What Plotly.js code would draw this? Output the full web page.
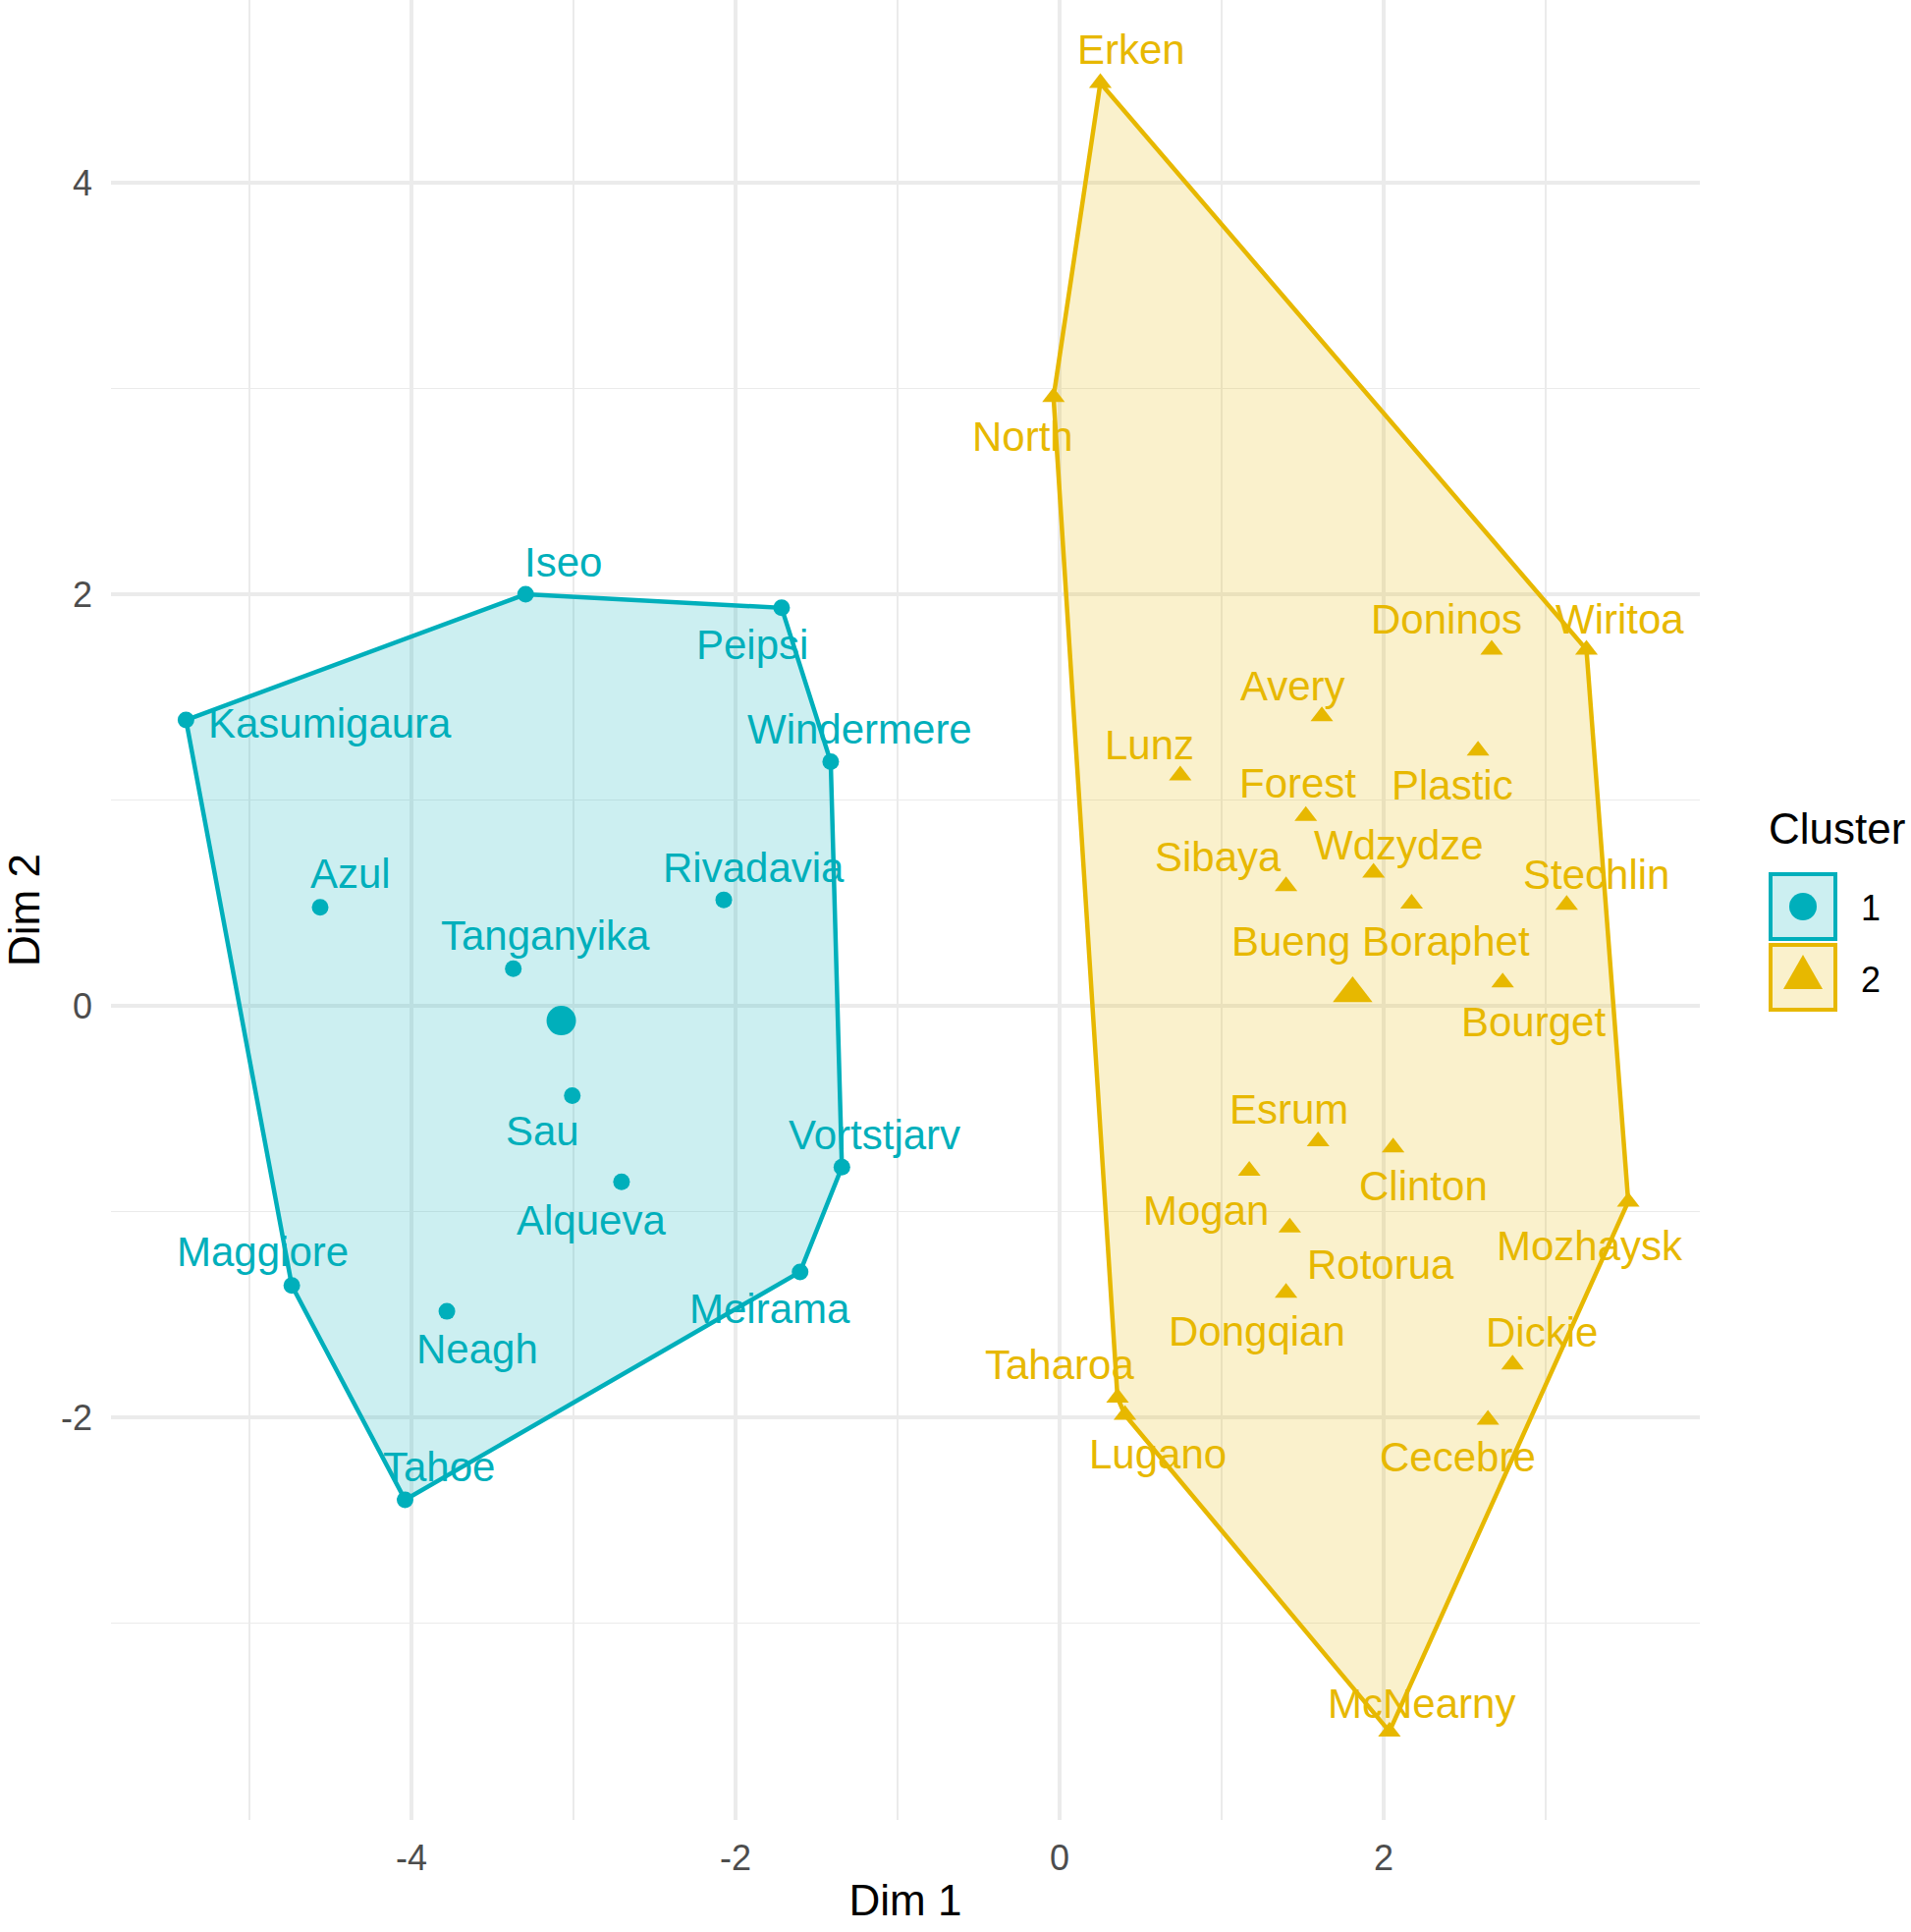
<!DOCTYPE html>
<html>
<head>
<meta charset="utf-8">
<script src="https://cdn.plot.ly/plotly-3.0.1.min.js"></script>
<style>html,body{margin:0;padding:0;background:#fff;}</style>
</head>
<body>
<div id="chart" style="width:1946px;height:1967px;"></div>
<script>
// ---------------- DATA ----------------
const clusterNames = ["1", "2"];

const lakesCluster1 = ["Iseo","Peipsi","Kasumigaura","Windermere","Azul","Rivadavia","Tanganyika","Sau","Vortstjarv","Alqueva","Maggiore","Meirama","Neagh","Tahoe"];
const dim1Cluster1 = [-3.296,-1.716,-5.392,-1.413,-4.564,-2.073,-3.372,-3.008,-1.344,-2.704,-4.739,-1.602,-3.782,-4.040];
const dim2Cluster1 = [2.000,1.934,1.389,1.186,0.479,0.515,0.180,-0.437,-0.784,-0.856,-1.359,-1.293,-1.485,-2.401];

const lakesCluster2 = ["Erken","North","Doninos","Wiritoa","Avery","Plastic","Lunz","Forest","Wdzydze","Sibaya","Bueng Boraphet","Stechlin","Bourget","Esrum","Clinton","Mogan","Mozhaysk","Rotorua","Dongqian","Dickie","Taharoa","Lugano","Cecebre","McNearny"];
const dim1Cluster2 = [0.251,-0.038,2.666,3.251,1.618,2.582,0.744,1.519,1.937,1.397,2.172,3.129,2.734,1.595,2.058,1.170,3.509,1.420,1.397,2.795,0.357,0.403,2.643,2.035];
const dim2Cluster2 = [4.485,2.958,1.731,1.731,1.407,1.240,1.120,0.922,0.647,0.581,0.497,0.491,0.114,-0.659,-0.689,-0.802,-0.952,-1.078,-1.395,-1.743,-1.904,-1.988,-2.012,-3.527];

const centroidDim1 = [-3.076, 1.808];
const centroidDim2 = [-0.072, 0.060];

const xTickVals = [-4, -2, 0, 2];
const xTickText = ["-4", "-2", "0", "2"];
const yTickVals = [-2, 0, 2, 4];
const yTickText = ["-2", "0", "2", "4"];

// ---------------- STYLE / LAYOUT ----------------
const colors = ["#00AFBB", "#E7B800"];
const fills = ["rgba(0,175,187,0.2)", "rgba(231,184,0,0.2)"];
const FONT = "Liberation Sans, Arial, Helvetica, sans-serif";

// label offsets in screen pixels [dx, dy] (dy downward)
const labelShift = {
  "Iseo":[38,-33], "Peipsi":[-30,38], "Kasumigaura":[147,3], "Windermere":[30,-33],
  "Azul":[31,-34], "Rivadavia":[30,-33], "Tanganyika":[33,-34], "Sau":[-30,36],
  "Vortstjarv":[33,-33], "Alqueva":[-31,39], "Maggiore":[-30,-34], "Meirama":[-31,38],
  "Neagh":[31,38], "Tahoe":[35,-34],
  "Erken":[31,-34], "North":[-31,40], "Doninos":[-46,-31], "Wiritoa":[34,-31],
  "Avery":[-30,-31], "Plastic":[-26,35], "Lunz":[-31,-31], "Forest":[-8,-33],
  "Wdzydze":[26,-28], "Sibaya":[-69,-30], "Bueng Boraphet":[-31,39], "Stechlin":[30,-31],
  "Bourget":[31,40], "Esrum":[-30,-33], "Clinton":[31,39], "Mogan":[-44,40],
  "Mozhaysk":[-39,45], "Rotorua":[93,38], "Dongqian":[-30,39], "Dickie":[30,-33],
  "Taharoa":[-59,-33], "Lugano":[33,40], "Cecebre":[-31,38], "McNearny":[33,-28]
};

// convex hull (monotone chain)
function hull(xs, ys) {
  const pts = xs.map((x, i) => [x, ys[i]]).sort((a, b) => a[0] - b[0] || a[1] - b[1]);
  const cross = (o, a, b) => (a[0]-o[0])*(b[1]-o[1]) - (a[1]-o[1])*(b[0]-o[0]);
  const lower = [], upper = [];
  for (const p of pts) { while (lower.length >= 2 && cross(lower[lower.length-2], lower[lower.length-1], p) <= 0) lower.pop(); lower.push(p); }
  for (let i = pts.length - 1; i >= 0; i--) { const p = pts[i]; while (upper.length >= 2 && cross(upper[upper.length-2], upper[upper.length-1], p) <= 0) upper.pop(); upper.push(p); }
  upper.pop(); lower.pop();
  const h = lower.concat(upper);
  h.push(h[0]);
  return h;
}

const groups = [
  {names: lakesCluster1, x: dim1Cluster1, y: dim2Cluster1, symbol: "circle", size: 17, csize: 30},
  {names: lakesCluster2, x: dim1Cluster2, y: dim2Cluster2, symbol: "triangle-up", size: 20, csize: 35}
];

const traces = [];
const annotations = [];
groups.forEach((g, k) => {
  const h = hull(g.x, g.y);
  traces.push({
    type: "scatter", mode: "lines", x: h.map(p => p[0]), y: h.map(p => p[1]),
    fill: "toself", fillcolor: fills[k], line: {color: colors[k], width: 4.5},
    hoverinfo: "skip", name: clusterNames[k]
  });
});
groups.forEach((g, k) => {
  traces.push({
    type: "scatter", mode: "markers", x: g.x, y: g.y, text: g.names,
    marker: {symbol: g.symbol, size: g.size, color: colors[k], line: {width: 0}},
    name: clusterNames[k]
  });
  traces.push({
    type: "scatter", mode: "markers", x: [centroidDim1[k]], y: [centroidDim2[k]],
    marker: {symbol: g.symbol, size: g.csize, color: colors[k], line: {width: 0}},
    name: clusterNames[k] + " centroid"
  });
  g.names.forEach((n, i) => {
    const s = labelShift[n] || [0, -30];
    annotations.push({
      x: g.x[i], y: g.y[i], xref: "x", yref: "y", text: n, showarrow: false,
      xanchor: "center", yanchor: "middle", xshift: s[0], yshift: -s[1],
      font: {family: FONT, size: 42, color: colors[k]}
    });
  });
});

// manual legend in pixel coords -> paper
const L = 113, W = 1618, B = 1853, H = 1853;
const fx = px => (px - L) / W;
const fy = py => (B - py) / H;
const shapes = [];
const legBoxes = [[890, 956], [962, 1028]];
legBoxes.forEach((b, k) => {
  shapes.push({type: "rect", xref: "paper", yref: "paper", x0: fx(1803), x1: fx(1869), y0: fy(b[1]), y1: fy(b[0]),
    fillcolor: fills[k], line: {color: colors[k], width: 4}, layer: "above"});
});
shapes.push({type: "circle", xref: "paper", yref: "paper", x0: fx(1822), x1: fx(1850), y0: fy(937), y1: fy(909),
  fillcolor: colors[0], line: {width: 0}, layer: "above"});
shapes.push({type: "path", xref: "paper", yref: "paper",
  path: `M ${fx(1816)} ${fy(1007)} L ${fx(1856)} ${fy(1007)} L ${fx(1836)} ${fy(972)} Z`,
  fillcolor: colors[1], line: {width: 0}, layer: "above"});

annotations.push({xref: "paper", yref: "paper", x: fx(1799), y: fy(844), xanchor: "left", yanchor: "middle",
  text: "Cluster", showarrow: false, font: {family: FONT, size: 44, color: "#000"}});
annotations.push({xref: "paper", yref: "paper", x: fx(1905), y: fy(924), xanchor: "center", yanchor: "middle",
  text: clusterNames[0], showarrow: false, font: {family: FONT, size: 36, color: "#000"}});
annotations.push({xref: "paper", yref: "paper", x: fx(1905), y: fy(997), xanchor: "center", yanchor: "middle",
  text: clusterNames[1], showarrow: false, font: {family: FONT, size: 36, color: "#000"}});

const axisCommon = {
  showgrid: true, gridcolor: "#EBEBEB", gridwidth: 3.5,
  zeroline: false, showline: false, ticks: "", ticklen: 0,
  tickfont: {family: FONT, size: 36, color: "#4D4D4D"}
};

const layout = {
  width: 1946, height: 1967,
  margin: {l: L, r: 1946 - L - W, t: 0, b: 1967 - B, pad: 0},
  paper_bgcolor: "#fff", plot_bgcolor: "#fff",
  showlegend: false,
  font: {family: FONT},
  xaxis: Object.assign({}, axisCommon, {
    range: [-5.855, 3.951], tickmode: "array", tickvals: xTickVals, ticktext: xTickText,
    ticklabelstandoff: 14,
    minor: {tickmode: "linear", tick0: 1, dtick: 2, showgrid: true, gridcolor: "#EBEBEB", gridwidth: 1.8},
    title: {text: "Dim 1", font: {family: FONT, size: 44, color: "#000"}, standoff: 8}
  }),
  yaxis: Object.assign({}, axisCommon, {
    range: [-3.957, 4.888], tickmode: "array", tickvals: yTickVals, ticktext: yTickText,
    ticklabelstandoff: 18,
    minor: {tickmode: "linear", tick0: 1, dtick: 2, showgrid: true, gridcolor: "#EBEBEB", gridwidth: 1.8},
    title: {text: "Dim 2", font: {family: FONT, size: 44, color: "#000"}, standoff: 12}
  }),
  shapes: shapes,
  annotations: annotations
};

Plotly.newPlot("chart", traces, layout, {staticPlot: true, displayModeBar: false});
</script>
</body>
</html>
